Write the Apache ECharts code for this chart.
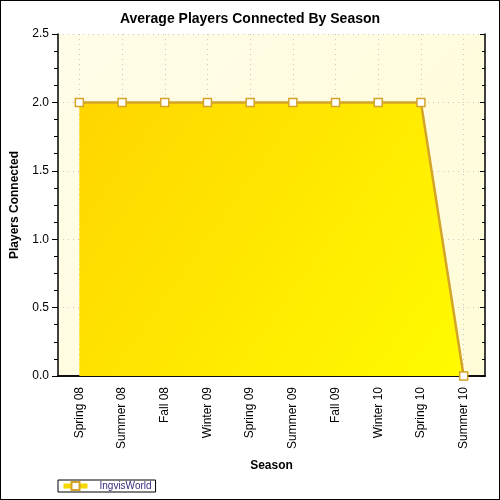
<!DOCTYPE html>
<html>
<head>
<meta charset="utf-8">
<script src="https://cdn.jsdelivr.net/npm/echarts@6/dist/echarts.min.js"></script>
<style>
  html, body { margin: 0; padding: 0; background: #fff; }
  #chart { width: 498px; height: 498px; border: 1px solid #000; }
</style>
</head>
<body>
<div id="chart"></div>
<script>
const seasons = ['Spring 08', 'Summer 08', 'Fall 08', 'Winter 09', 'Spring 09', 'Summer 09', 'Fall 09', 'Winter 10', 'Spring 10', 'Summer 10']
const ingvisWorld = [2, 2, 2, 2, 2, 2, 2, 2, 2, 0]
const yTicks = [0, 0.5, 1, 1.5, 2, 2.5]

const font = 'Liberation Sans, Arial, sans-serif'
const chart = echarts.init(document.getElementById('chart'))

chart.setOption({
  animation: false,
  title: {
    text: 'Average Players Connected By Season',
    left: 'center',
    top: 6,
    textStyle: { fontFamily: font, fontSize: 14, fontWeight: 'bold', color: '#000' }
  },
  legend: {
    left: 57,
    bottom: 7,
    itemWidth: 24,
    itemHeight: 10,
    padding: [1, 4, 1, 3],
    borderColor: '#000',
    borderWidth: 1,
    textStyle: { fontFamily: font, fontSize: 10, color: '#3a2a7a', padding: [0, 0, 0, 7] },
    data: [{
      name: 'IngvisWorld',
      lineStyle: { color: '#f5d800', width: 5 }
    }]
  },
  grid: {
    left: 57,
    right: 14,
    top: 33,
    bottom: 123,
    outerBoundsMode: 'none',
    show: true,
    borderWidth: 0,
    backgroundColor: {
      type: 'linear', x: 0, y: 0, x2: 1, y2: 1,
      colorStops: [
        { offset: 0, color: '#fffce8' },
        { offset: 1, color: '#fffcd8' }
      ]
    }
  },
  xAxis: [{
    type: 'category',
    data: seasons,
    boundaryGap: true,
    name: 'Season',
    nameLocation: 'middle',
    nameGap: 84,
    nameTextStyle: { fontFamily: font, fontSize: 12, fontWeight: 'bold', color: '#000' },
    axisLine: { lineStyle: { color: '#000', width: 1.5 } },
    axisTick: { alignWithLabel: true, length: 5, lineStyle: { color: '#000' } },
    axisLabel: { rotate: 90, fontFamily: font, fontSize: 12, color: '#000', margin: 11, interval: 0 },
    splitLine: { show: true, alignWithLabel: true, lineStyle: { color: '#c8c8c8', type: [1, 4] } }
  }, {
    type: 'category',
    data: seasons,
    position: 'top',
    axisLine: { lineStyle: { color: '#000', width: 1.5 } },
    axisTick: { show: false },
    axisLabel: { show: false }
  }],
  yAxis: [{
    type: 'value',
    min: 0,
    max: 2.5,
    interval: 0.5,
    name: 'Players Connected',
    nameLocation: 'middle',
    nameGap: 37,
    nameTextStyle: { fontFamily: font, fontSize: 12, fontWeight: 'bold', color: '#000' },
    axisLine: { show: true, lineStyle: { color: '#000', width: 1.5 } },
    axisTick: { show: true, length: 6, lineStyle: { color: '#000' } },
    minorTick: { show: true, splitNumber: 4, length: 4, lineStyle: { color: '#000' } },
    axisLabel: {
      fontFamily: font, fontSize: 12, color: '#000', margin: 9,
      formatter: v => yTicks.includes(v) ? v.toFixed(1) : ''
    },
    splitLine: { show: true, lineStyle: { color: '#c8c8c8', type: [1, 4] } }
  }, {
    type: 'value',
    min: 0,
    max: 2.5,
    interval: 0.5,
    position: 'right',
    axisLine: { show: true, lineStyle: { color: '#000', width: 1.5 } },
    axisTick: { show: true, inside: true, length: 5, lineStyle: { color: '#000' } },
    minorTick: { show: true, splitNumber: 4, length: 3, lineStyle: { color: '#000' } },
    axisLabel: { show: false },
    splitLine: { show: false }
  }],
  series: [{
    name: 'IngvisWorld',
    type: 'line',
    data: ingvisWorld,
    symbol: 'rect',
    symbolSize: 8,
    showAllSymbol: true,
    z: 3,
    itemStyle: { color: '#fff', borderColor: '#d4a428', borderWidth: 1.5 },
    lineStyle: { color: '#d4a428', width: 2.5 },
    areaStyle: {
      opacity: 1,
      color: {
        type: 'linear', x: 0, y: 0, x2: 1, y2: 1,
        colorStops: [
          { offset: 0, color: '#ffd500' },
          { offset: 1, color: '#fffb00' }
        ]
      }
    }
  }]
})
</script>
</body>
</html>
